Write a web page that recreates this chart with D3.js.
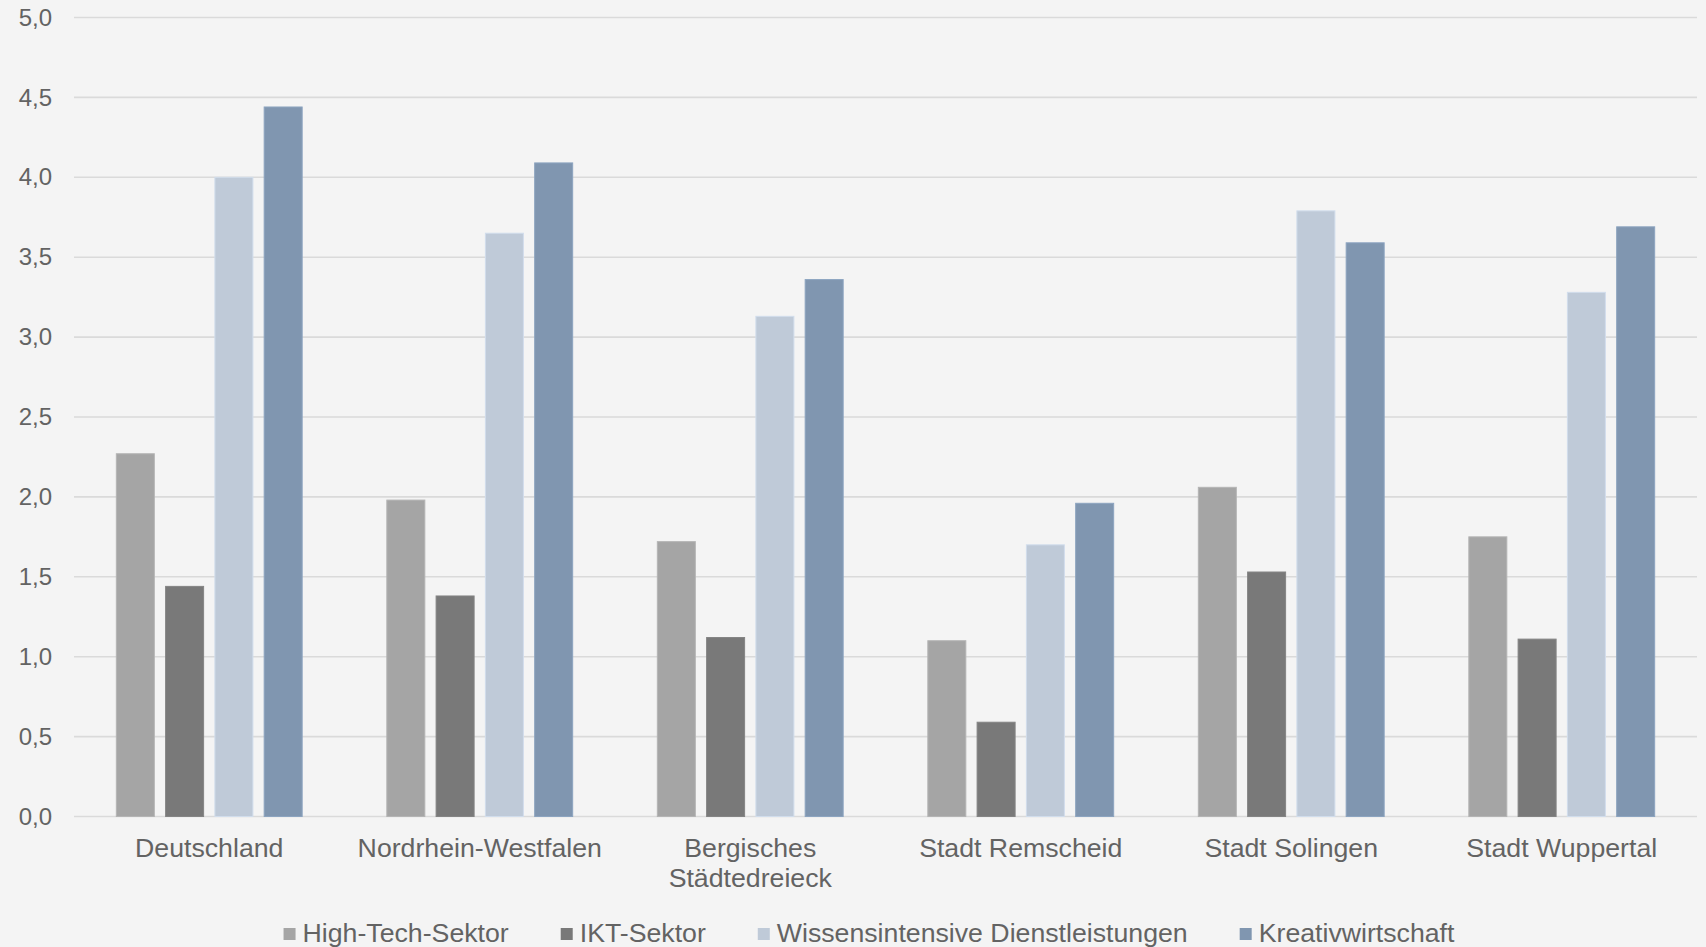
<!DOCTYPE html>
<html>
<head>
<meta charset="utf-8">
<script src="https://cdn.jsdelivr.net/npm/d3@7/dist/d3.min.js"></script>
<style>
  html, body { margin: 0; padding: 0; background: #f4f4f4; }
  svg { display: block; }
  text { font-family: "Liberation Sans", Arial, sans-serif; fill: #636363; }
</style>
</head>
<body>
<svg id="chart" width="1706" height="947"></svg>
<script>
// Regions along the x axis (multi-line labels split on "\n")
const categories = ["Deutschland", "Nordrhein-Westfalen", "Bergisches\nStädtedreieck",
                    "Stadt Remscheid", "Stadt Solingen", "Stadt Wuppertal"];

// Sector names and their fills
const seriesNames = ["High-Tech-Sektor", "IKT-Sektor",
                     "Wissensintensive Dienstleistungen", "Kreativwirtschaft"];
const seriesColors = ["#a5a5a5", "#797979", "#bfcad8", "#8096b0"];

// Values per sector, one per region
const highTech = [2.27, 1.98, 1.72, 1.10, 2.06, 1.75];
const ikt      = [1.44, 1.38, 1.12, 0.59, 1.53, 1.11];
const wissen   = [4.00, 3.65, 3.13, 1.70, 3.79, 3.28];
const kreativ  = [4.44, 4.09, 3.36, 1.96, 3.59, 3.69];
const seriesValues = [highTech, ikt, wissen, kreativ];

// Y axis ticks
const yTicks = [0, 0.5, 1, 1.5, 2, 2.5, 3, 3.5, 4, 4.5, 5];

const svg = d3.select("#chart");
const W = 1706, H = 947;
const margin = { left: 74, right: 9, top: 17.5 };
const plotBottom = 816.5;
const labelSize = 26.7;

svg.append("rect").attr("width", W).attr("height", H).attr("fill", "#f4f4f4");

const x0 = d3.scaleBand().domain(categories).range([margin.left, W - margin.right]).padding(0);
const groupWidth = x0.bandwidth() * 0.687;
const x1 = d3.scaleBand().domain(seriesNames).range([0, groupWidth]).paddingInner(0.229).paddingOuter(0);
const y = d3.scaleLinear().domain([0, 5]).range([plotBottom, margin.top]);

const fmt = v => d3.format(".1f")(v).replace(".", ",");

// Gridlines
svg.append("g")
  .selectAll("line")
  .data(yTicks)
  .join("line")
  .attr("x1", margin.left)
  .attr("x2", W - margin.right)
  .attr("y1", d => y(d))
  .attr("y2", d => y(d))
  .attr("stroke", "#dadada")
  .attr("stroke-width", 1.6);

// Y axis labels
const yAxis = d3.axisLeft(y).tickValues(yTicks).tickFormat(fmt).tickSize(0).tickPadding(0);
const gy = svg.append("g").attr("transform", "translate(52,0)").call(yAxis);
gy.select(".domain").remove();
gy.selectAll("text")
  .attr("font-size", 24)
  .attr("fill", "#636363")
  .style("font-family", "'Liberation Sans', Arial, sans-serif");

// Bars
const groups = svg.append("g")
  .selectAll("g")
  .data(categories)
  .join("g")
  .attr("transform", d => `translate(${x0(d) + (x0.bandwidth() - groupWidth) / 2},0)`);

groups.selectAll("rect")
  .data((d, i) => seriesNames.map((s, j) => ({ s, j, v: seriesValues[j][i] })))
  .join("rect")
  .attr("x", d => x1(d.s))
  .attr("width", x1.bandwidth())
  .attr("y", d => y(d.v))
  .attr("height", d => y(0) - y(d.v))
  .attr("fill", d => seriesColors[d.j])
  .attr("stroke", d => d3.color(seriesColors[d.j]).brighter(0.25))
  .attr("stroke-width", 1);

// Category labels
const catLabels = svg.append("g")
  .selectAll("text")
  .data(categories)
  .join("text")
  .attr("x", d => x0(d) + x0.bandwidth() / 2)
  .attr("y", 857)
  .attr("text-anchor", "middle")
  .attr("font-size", labelSize);
catLabels.each(function (d) {
  const t = d3.select(this);
  d.split("\n").forEach((line, k) => {
    t.append("tspan").attr("x", x0(d) + x0.bandwidth() / 2).attr("dy", k === 0 ? 0 : 30).text(line);
  });
});

// Legend
const legend = svg.append("g");
const items = legend.selectAll("g")
  .data(seriesNames)
  .join("g");
items.append("rect")
  .attr("width", 12).attr("height", 12)
  .attr("y", 928)
  .attr("fill", (d, i) => seriesColors[i]);
items.append("text")
  .attr("x", 19)
  .attr("y", 942)
  .attr("font-size", labelSize)
  .text(d => d);

let cursor = 0;
const positions = [];
items.each(function () {
  const tw = d3.select(this).select("text").node().getComputedTextLength();
  positions.push(cursor);
  cursor += 19 + tw + 52;
});
const total = cursor - 52;
const startX = 869 - total / 2;
items.attr("transform", (d, i) => `translate(${startX + positions[i]},0)`);
</script>
</body>
</html>
